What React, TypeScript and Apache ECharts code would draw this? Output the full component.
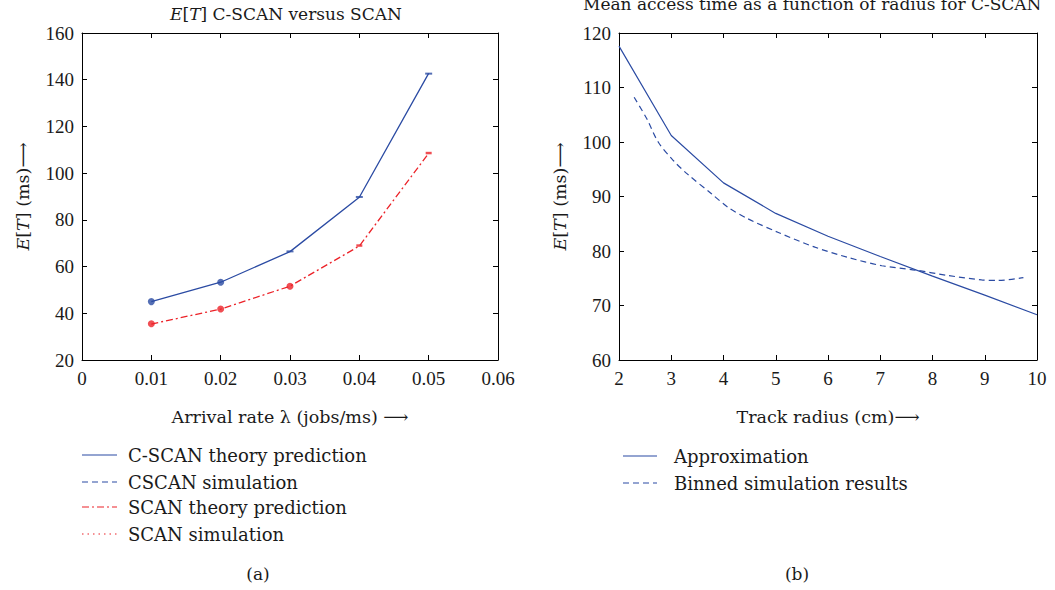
import React, { useEffect, useRef } from "react";
import * as echarts from "echarts";

const lambdaValues = [0.01, 0.02, 0.03, 0.04, 0.05];
const cscanTheory = [45, 53.3, 66.4, 89.7, 142.7];
const cscanSim = [45, 53.3, 66.5, 89.8, 142.6];
const scanTheory = [35.4, 41.8, 51.6, 68.8, 108.5];
const scanSim = [35.5, 41.8, 51.6, 69, 108.6];
const cscanSimSymbols = ["circle", "circle", "rect", "rect", "rect"];
const scanSimSymbols = ["circle", "circle", "circle", "rect", "rect"];

const radiusApprox = [2, 3, 4, 5, 6, 7, 8, 9, 10];
const approxValues = [117.6, 101.2, 92.5, 86.9, 82.7, 79.0, 75.4, 71.9, 68.3];
const radiusBinned = [2.29, 2.53, 2.75, 3.04, 3.3, 3.77, 4.09, 4.47, 5.05, 5.75, 6.39, 7.03, 7.67, 8.3, 8.94, 9.26, 9.74];
const binnedValues = [108.2, 104.3, 100.0, 96.6, 94.2, 90.5, 88.0, 85.9, 83.4, 80.7, 78.8, 77.3, 76.5, 75.5, 74.7, 74.6, 75.1];

const legendA = ["C-SCAN theory prediction", "CSCAN simulation", "SCAN theory prediction", "SCAN simulation"];
const legendB = ["Approximation", "Binned simulation results"];

const BLUE = "#2b4ba3";
const RED = "#ec2228";
const FONT = "'Liberation Serif', 'DejaVu Serif', serif";
const WFONT = "'DejaVu Serif', 'Liberation Serif', serif";
const TXT = "#1a1a1a";
const WSIZE = 17.5;

function axisBase(extra: any) {
  return {
    axisLine: { show: true, onZero: false, lineStyle: { color: "#000", width: 1 } },
    axisTick: { show: true, inside: true, length: 5, lineStyle: { color: "#000" } },
    splitLine: { show: false },
    axisLabel: { color: TXT, fontFamily: FONT, fontSize: 18 },
    ...extra,
  };
}

export default function App() {
  const ref = useRef<HTMLDivElement>(null);
  useEffect(() => {
    if (!ref.current) return;
    const chart = echarts.init(ref.current, undefined, { renderer: "svg" });
    const rich = { i: { fontStyle: "italic", fontFamily: WFONT, fontSize: WSIZE, color: TXT } };
    const richTitle = { i: { fontStyle: "italic", fontFamily: WFONT, fontSize: 17, color: TXT } };
    const nameStyle = { fontFamily: WFONT, fontSize: WSIZE, color: TXT, rich };

    const legendGraphics: any[] = [];
    const legRowsA = [455, 482, 507, 534];
    const dashA: any[] = ["solid", [6, 4], [7, 3, 2, 3], [1.5, 4]];
    const colA = [BLUE, BLUE, RED, RED];
    legendA.forEach((t, k) => {
      legendGraphics.push({
        type: "line",
        shape: { x1: 82, y1: legRowsA[k], x2: 117, y2: legRowsA[k] },
        style: { stroke: colA[k], lineWidth: 1.2, lineDash: dashA[k] === "solid" ? null : dashA[k] },
      });
      legendGraphics.push({
        type: "text",
        x: 128,
        y: legRowsA[k],
        style: { text: t, fontFamily: WFONT, fontSize: 18, fill: TXT, textVerticalAlign: "middle" },
      });
    });
    const legRowsB = [456, 483];
    const dashB: any[] = [null, [6, 4]];
    legendB.forEach((t, k) => {
      legendGraphics.push({
        type: "line",
        shape: { x1: 623, y1: legRowsB[k], x2: 657, y2: legRowsB[k] },
        style: { stroke: BLUE, lineWidth: 1.2, lineDash: dashB[k] },
      });
      legendGraphics.push({
        type: "text",
        x: 674,
        y: legRowsB[k],
        style: { text: t, fontFamily: WFONT, fontSize: 18, fill: TXT, textVerticalAlign: "middle" },
      });
    });

    const option: any = {
      animation: false,
      backgroundColor: "#fff",
      grid: [
        { left: 82, right: 557, top: 33, bottom: 230 },
        { left: 619, right: 18, top: 33, bottom: 230 },
      ],
      xAxis: [
        axisBase({
          type: "value", gridIndex: 0, min: 0, max: 0.06, interval: 0.01, position: "bottom",
          axisLabel: { color: TXT, fontFamily: FONT, fontSize: 19, margin: 9, formatter: (v: number) => (v === 0 ? "0" : v.toFixed(2)) },
          name: "Arrival rate λ (jobs/ms) ⟶", nameLocation: "middle", nameGap: 48, nameTextStyle: nameStyle,
        }),
        axisBase({ type: "value", gridIndex: 0, min: 0, max: 0.06, interval: 0.01, position: "top", axisLabel: { show: false } }),
        axisBase({
          type: "value", gridIndex: 1, min: 2, max: 10, interval: 1, position: "bottom",
          axisLabel: { color: TXT, fontFamily: FONT, fontSize: 19, margin: 9 },
          name: "Track radius (cm)⟶", nameLocation: "middle", nameGap: 48, nameTextStyle: nameStyle,
        }),
        axisBase({ type: "value", gridIndex: 1, min: 2, max: 10, interval: 1, position: "top", axisLabel: { show: false } }),
      ],
      yAxis: [
        axisBase({
          type: "value", gridIndex: 0, min: 20, max: 160, interval: 20, position: "left",
          axisLabel: { color: TXT, fontFamily: FONT, fontSize: 19, margin: 8 },
          name: "{i|E}[{i|T}] (ms)⟶", nameLocation: "middle", nameGap: 50, nameRotate: 90, nameTextStyle: nameStyle,
        }),
        axisBase({ type: "value", gridIndex: 0, min: 20, max: 160, interval: 20, position: "right", axisLabel: { show: false } }),
        axisBase({
          type: "value", gridIndex: 1, min: 60, max: 120, interval: 10, position: "left",
          axisLabel: { color: TXT, fontFamily: FONT, fontSize: 19, margin: 8 },
          name: "{i|E}[{i|T}] (ms)⟶", nameLocation: "middle", nameGap: 50, nameRotate: 90, nameTextStyle: nameStyle,
        }),
        axisBase({ type: "value", gridIndex: 1, min: 60, max: 120, interval: 10, position: "right", axisLabel: { show: false } }),
      ],
      series: [
        {
          name: legendA[0], type: "line", xAxisIndex: 0, yAxisIndex: 0, showSymbol: false, symbol: "none",
          data: lambdaValues.map((x, k) => [x, cscanTheory[k]]),
          lineStyle: { color: BLUE, width: 1.3 },
        },
        {
          name: legendA[2], type: "line", xAxisIndex: 0, yAxisIndex: 0, showSymbol: false, symbol: "none",
          data: lambdaValues.map((x, k) => [x, scanTheory[k]]),
          lineStyle: { color: RED, width: 1.3, type: [7, 3, 2, 3] },
        },
        {
          name: legendA[1], type: "scatter", xAxisIndex: 0, yAxisIndex: 0,
          itemStyle: { color: BLUE },
          data: lambdaValues.map((x, k) => ({
            value: [x, cscanSim[k]],
            symbol: cscanSimSymbols[k],
            symbolSize: cscanSimSymbols[k] === "circle" ? 7 : [7, 2],
          })),
        },
        {
          name: legendA[3], type: "scatter", xAxisIndex: 0, yAxisIndex: 0,
          itemStyle: { color: RED },
          data: lambdaValues.map((x, k) => ({
            value: [x, scanSim[k]],
            symbol: scanSimSymbols[k],
            symbolSize: scanSimSymbols[k] === "circle" ? 7 : [6, 2.5],
          })),
        },
        {
          name: legendB[0], type: "line", xAxisIndex: 2, yAxisIndex: 2, showSymbol: false, symbol: "none",
          data: radiusApprox.map((x, k) => [x, approxValues[k]]),
          lineStyle: { color: BLUE, width: 1.2 },
        },
        {
          name: legendB[1], type: "line", xAxisIndex: 2, yAxisIndex: 2, showSymbol: false, symbol: "none", smooth: 0.3,
          data: radiusBinned.map((x, k) => [x, binnedValues[k]]),
          lineStyle: { color: BLUE, width: 1.2, type: [6, 4] },
        },
      ],
      graphic: [
        {
          type: "text", x: 286, y: 14,
          style: {
            text: "{i|E}[{i|T}] C-SCAN versus SCAN", fontFamily: WFONT, fontSize: 17, fill: TXT,
            align: "center", verticalAlign: "middle", rich: richTitle,
          },
        },
        {
          type: "text", x: 583, y: 12,
          style: {
            text: "Mean access time as a function of radius for C-SCAN", fontFamily: WFONT, fontSize: 17, fill: TXT,
            verticalAlign: "bottom",
          },
        },
        {
          type: "text", x: 258, y: 574,
          style: { text: "(a)", fontFamily: WFONT, fontSize: 17, fill: TXT, align: "center", verticalAlign: "middle" },
        },
        {
          type: "text", x: 797, y: 574,
          style: { text: "(b)", fontFamily: WFONT, fontSize: 17, fill: TXT, align: "center", verticalAlign: "middle" },
        },
        ...legendGraphics,
      ],
    };
    chart.setOption(option);
    return () => chart.dispose();
  }, []);
  return <div ref={ref} style={{ position: "absolute", left: 0, top: 0, width: 1055, height: 590 }} />;
}
